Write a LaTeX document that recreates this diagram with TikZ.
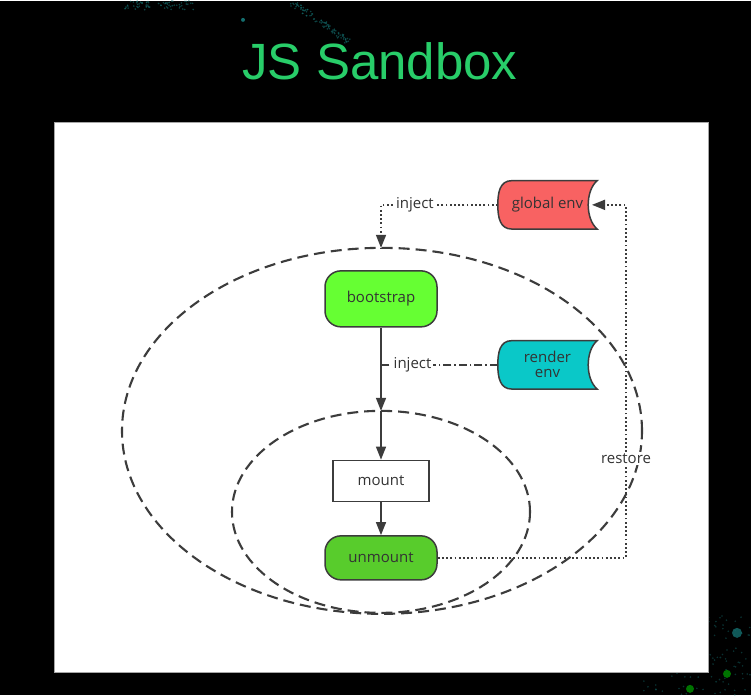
\documentclass[tikz,border=0pt]{standalone}
\usepackage{fontspec}
\setmainfont{Open Sans}
\newfontfamily\titlefont{Liberation Sans}
\usetikzlibrary{arrows.meta,positioning,calc,backgrounds}

\definecolor{titlegreen}{RGB}{40,205,105}
\definecolor{globalred}{RGB}{248,98,98}
\definecolor{renderteal}{RGB}{10,200,200}
\definecolor{bootgreen}{RGB}{102,255,51}
\definecolor{unmountgreen}{RGB}{88,204,44}
\definecolor{linegray}{RGB}{60,60,60}
\definecolor{speck}{RGB}{20,110,110}

% shape of a stored-data box round a named node
\newcommand{\storebox}[2]{%
  \filldraw[fill=#2, draw=linegray, line width=1.5pt]
    ($(#1.north west)+(14,0)$) -- (#1.north east)
    .. controls ($(#1.north east)+(-12,10)$) and ($(#1.south east)+(-12,-10)$) .. (#1.south east)
    -- ($(#1.south west)+(14,0)$)
    .. controls ($(#1.south west)+(2,0)$) and ($(#1.south west)+(0,-12)$) .. (#1.west)
    .. controls ($(#1.north west)+(0,12)$) and ($(#1.north west)+(2,0)$) .. cycle;}

\begin{document}
\begin{tikzpicture}[
    x=1pt, y=-1pt,
    >={Triangle[length=13pt,width=10pt]},
    % Styles
    txt/.style={font=\fontsize{15}{17}\selectfont, text=black!80},
    phase/.style={txt, draw=linegray, line width=1.5pt, minimum width=112pt, rounded corners=16pt},
    storenode/.style={txt, minimum width=99pt, minimum height=48pt, align=center, inner sep=0pt},
    flow/.style={->, draw=linegray, line width=1.5pt},
    dotline/.style={draw=linegray, line width=1.8pt, dash pattern=on 1.8pt off 2.4pt},
    dashdotline/.style={draw=linegray, line width=1.5pt, dash pattern=on 8pt off 3pt on 1.5pt off 3pt},
    scopeline/.style={draw=linegray, line width=2.1pt, dash pattern=on 11pt off 6pt},
    tag/.style={txt, fill=white, inner sep=1.5pt}
  ]

  % --- background, texture and panel ---
  \begin{scope}[on background layer]
    \fill[black] (0,0) rectangle (751,694);
    \pgfmathsetseed{11}
    \foreach \i in {1,...,70}{
      \pgfmathsetmacro{\px}{125+70*rnd}
      \pgfmathsetmacro{\py}{9*rnd}
      \fill[speck, opacity=0.6] (\px,\py) circle (0.9);
    }
    \foreach \i in {1,...,90}{
      \pgfmathsetmacro{\pt}{rnd}
      \pgfmathsetmacro{\px}{290+55*\pt+8*rnd}
      \pgfmathsetmacro{\py}{38*\pt+6*rnd}
      \fill[speck, opacity=0.6] (\px,\py) circle (0.9);
    }
    \fill[speck] (243,19) circle (2);
    \foreach \i in {1,...,160}{
      \pgfmathsetmacro{\px}{640+111*rnd}
      \pgfmathsetmacro{\py}{615+79*rnd}
      \fill[speck, opacity=0.45] (\px,\py) circle (0.9);
    }
    \fill[speck, opacity=0.8] (737,632) circle (5);
    \fill[green!45!black] (727,673) circle (4);
    \fill[green!45!black] (690,688) circle (4);
    \fill[white, draw=gray!70, line width=0.8pt] (54,122) rectangle (708,672);
  \end{scope}

  % --- title ---
  \node[font=\titlefont\fontsize{51}{54}\selectfont, text=titlegreen] (title) at (380,60) {JS Sandbox};

  % --- scopes ---
  \draw[scopeline] (382,430) ellipse [x radius=260pt, y radius=183pt];
  \draw[scopeline] (381,511) ellipse [x radius=149pt, y radius=101pt];

  % --- nodes ---
  \node[storenode] (ge) at (547.5,204) {global env};
  \node[storenode] (re) at (547.5,364) {render\\[-2pt]env};
  \node[phase, fill=bootgreen, minimum height=56pt] (bs) at (381,298) {bootstrap};
  \node[phase, fill=white, rounded corners=0pt, minimum width=96pt, minimum height=41pt] (mt) at (381,480) {mount};
  \node[phase, fill=unmountgreen, minimum height=44pt] (um) at (381,557) {unmount};

  \begin{scope}[on background layer]
    \storebox{ge}{globalred}
    \storebox{re}{renderteal}
  \end{scope}

  % --- helper points ---
  \coordinate (injtop) at (381,247);
  \coordinate (innertop) at (381,410);
  \coordinate (getip) at (592,204);
  \coordinate (rline) at (626,458);

  % --- connectors ---
  \draw[dotline] (ge.west) -| (injtop) node[tag, pos=0.355] {inject};
  \draw[flow] ($(injtop)+(0,-12)$) -- (injtop);
  \draw[flow] (bs.south) -- (innertop);
  \draw[flow] (innertop) -- (mt.north);
  \draw[dashdotline] (re.west) -- (re.west -| bs.south) node[tag, pos=0.73] {inject};
  \draw[flow] (mt.south) -- (um.north);
  \draw[dotline] (um.east) -| (rline) |- ($(getip)+(12,0)$);
  \draw[flow] ($(getip)+(12,0)$) -- (getip);
  \node[tag] (rs) at (rline) {restore};

\end{tikzpicture}
\end{document}
